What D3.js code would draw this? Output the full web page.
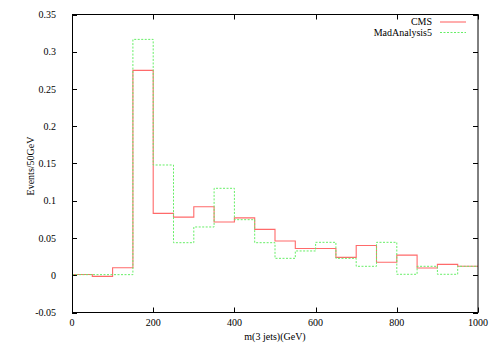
<!DOCTYPE html>
<html><head><meta charset="utf-8">
<script src="https://cdn.jsdelivr.net/npm/d3@7"></script>
<style>body{margin:0;background:#fff}svg{display:block}text{font-family:"Liberation Serif","DejaVu Serif",serif;font-size:10px;fill:#000}</style>
</head><body>
<script>
const binEdges = [0,50,100,150,200,250,300,350,400,450,500,550,600,650,700,750,800,850,900,950];
const cmsValues = [0.001,-0.0015,0.010,0.275,0.083,0.078,0.092,0.0715,0.077,0.0616,0.046,0.036,0.036,0.024,0.040,0.0174,0.027,0.0097,0.0146,0.012];
const ma5Values = [0.0008,0.0008,0.0008,0.3166,0.148,0.0437,0.0648,0.1167,0.0746,0.0437,0.0227,0.0326,0.0442,0.0227,0.012,0.0442,0.0013,0.012,0.0013,0.012];
const xTicks = [0,200,400,600,800,1000];
const yTicks = [-0.05,0,0.05,0.1,0.15,0.2,0.25,0.3,0.35];
const yTickLabels = ["-0.05","0","0.05","0.1","0.15","0.2","0.25","0.3","0.35"];
const seriesNames = ["CMS","MadAnalysis5"];
const xLabel = "m(3 jets)(GeV)";
const yLabel = "Events/50GeV";

const W=498,H=348, L=72, R=478, T=14.5, B=312.5;
const svg=d3.select("body").append("svg").attr("width",W).attr("height",H);
const x=d3.scaleLinear().domain([0,1000]).range([L,R]);
const y=d3.scaleLinear().domain([-0.05,0.35]).range([B,T]);

const g=svg.append("g");
yTicks.forEach((t,i)=>{
  const yy=Math.round(y(t))+0.5;
  g.append("line").attr("x1",L).attr("x2",L+5).attr("y1",yy).attr("y2",yy).attr("stroke","#000");
  g.append("line").attr("x1",R-5).attr("x2",R).attr("y1",yy).attr("y2",yy).attr("stroke","#000");
  g.append("text").attr("x",56).attr("y",y(t)+3.5).attr("text-anchor","end").text(yTickLabels[i]);
});
xTicks.forEach(t=>{
  const xx=Math.round(x(t))+0.5;
  g.append("line").attr("x1",xx).attr("x2",xx).attr("y1",B).attr("y2",B-5).attr("stroke","#000");
  g.append("line").attr("x1",xx).attr("x2",xx).attr("y1",T).attr("y2",T+5).attr("stroke","#000");
  g.append("text").attr("x",x(t)).attr("y",326).attr("text-anchor","middle").text(t);
});

const line=d3.line().x(d=>x(d[0])).y(d=>y(d[1])).curve(d3.curveStepAfter);
function pts(vals){const p=binEdges.map((e,i)=>[e,vals[i]]);p.push([1000,vals[vals.length-1]]);return p;}
svg.append("path").attr("d",line(pts(cmsValues))).attr("fill","none").attr("stroke","#ff6a6a").attr("stroke-width",1.1);
svg.append("path").attr("d",line(pts(ma5Values))).attr("fill","none").attr("stroke","#66ee66").attr("stroke-width",1).attr("stroke-dasharray","2,1.5");

svg.append("rect").attr("x",L+0.5).attr("y",T).attr("width",R-L-0.5).attr("height",B-T).attr("fill","none").attr("stroke","#000").attr("stroke-width",1);

svg.append("text").attr("x",432).attr("y",25).attr("text-anchor","end").text(seriesNames[0]);
svg.append("line").attr("x1",440).attr("x2",466).attr("y1",22).attr("y2",22).attr("stroke","#ff6a6a").attr("stroke-width",1.1);
svg.append("text").attr("x",432).attr("y",35.5).attr("text-anchor","end").text(seriesNames[1]);
svg.append("line").attr("x1",440).attr("x2",466).attr("y1",32.5).attr("y2",32.5).attr("stroke","#66ee66").attr("stroke-dasharray","2,1.5");

svg.append("text").attr("x",(L+R)/2).attr("y",340).attr("text-anchor","middle").text(xLabel);
svg.append("text").attr("transform","translate(34,166) rotate(-90)").attr("text-anchor","middle").text(yLabel);
</script>
</body></html>
